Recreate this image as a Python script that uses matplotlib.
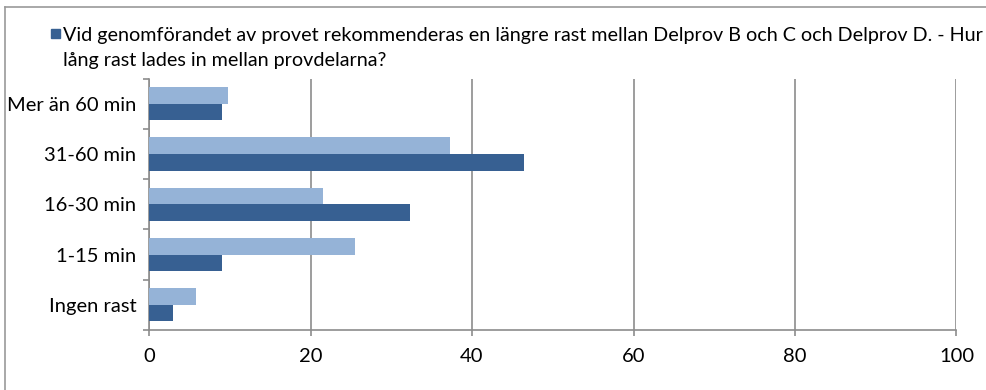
import matplotlib.pyplot as plt
from matplotlib.patches import Rectangle
from matplotlib.lines import Line2D
import numpy as np

plt.rcParams['font.family'] = ['Lato', 'DejaVu Sans']

# --- data ---
categories = ['Ingen rast', '1-15 min', '16-30 min', '31-60 min', 'Mer än 60 min']
light_vals = [5.8, 25.5, 21.5, 37.3, 9.8]
dark_vals = [3.0, 9.1, 32.3, 46.5, 9.1]
legend_label = ('Vid genomförandet av provet rekommenderas en längre rast mellan '
                'Delprov B och C och Delprov D. - Hur\nlång rast lades in mellan provdelarna?')
xticks = [0, 20, 40, 60, 80, 100]

light_col = '#95B3D7'
dark_col = '#376092'
grid_col = '#8C8C8C'

fig = plt.figure(figsize=(9.87, 3.9), dpi=100)
W, H = 987, 390
ax = fig.add_axes([149 / W, 1 - 330 / H, (956.5 - 149) / W, (330 - 78.6) / H])

y = np.arange(len(categories))
h = 0.33
ax.barh(y + h / 2, light_vals, height=h, color=light_col, zorder=3)
ax.barh(y - h / 2, dark_vals, height=h, color=dark_col, zorder=3)

ax.set_xlim(0, 100)
ax.set_ylim(-0.5, len(categories) - 0.5)
ax.set_xticks(xticks)
ax.set_yticks(y)
ax.set_yticklabels(categories)
ax.set_yticks(np.arange(-0.5, len(categories), 1), minor=True)
ax.tick_params(axis='y', which='major', length=0, pad=9, labelsize=14.5)
ax.tick_params(axis='y', which='minor', length=4.5, color=grid_col, width=1.2)
ax.tick_params(axis='x', length=4.5, color=grid_col, width=1.2, pad=8.5, labelsize=14.5)

ax.grid(axis='x', color=grid_col, linewidth=1.2, zorder=0)
for s in ['top', 'right']:
    ax.spines[s].set_visible(False)
for s in ['left', 'bottom']:
    ax.spines[s].set_color(grid_col)
    ax.spines[s].set_linewidth(1.2)

# legend (only the dark series is listed)
fig.patches.append(Rectangle((51.5 / W, 1 - 38 / H), 9 / W, 9 / H,
                             transform=fig.transFigure, color=dark_col))
fig.text(63 / W, 1 - 48 / H, legend_label, fontsize=14.2, va='center',
         ha='left', linespacing=1.6, transform=fig.transFigure)

# chart frame
fig.lines.append(Line2D([5.5 / W, 5.5 / W], [0, 1 - 7 / H], transform=fig.transFigure,
                        color='#9A9A9A', linewidth=1.2))
fig.lines.append(Line2D([5.5 / W, 1], [1 - 7 / H, 1 - 7 / H], transform=fig.transFigure,
                        color='#9A9A9A', linewidth=1.2))

fig.savefig('out.png', dpi=100)
